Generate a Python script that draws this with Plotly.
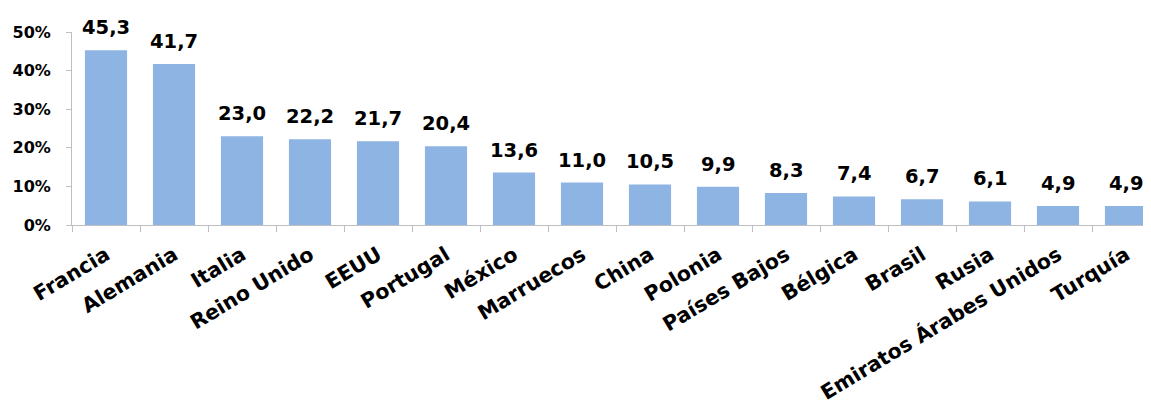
import plotly.graph_objects as go

categories = ["Francia", "Alemania", "Italia", "Reino Unido", "EEUU", "Portugal",
              "México", "Marruecos", "China", "Polonia", "Países Bajos", "Bélgica",
              "Brasil", "Rusia", "Emiratos Árabes Unidos", "Turquía"]
values = [45.3, 41.7, 23.0, 22.2, 21.7, 20.4, 13.6, 11.0, 10.5, 9.9, 8.3, 7.4, 6.7, 6.1, 4.9, 4.9]
y_ticks = [0, 10, 20, 30, 40, 50]

FONT = "DejaVu Sans"
BAR = "#8EB4E3"
AXIS = "#BFBFBF"

# page body has an 8px margin, so the figure is slightly smaller than the window
W, H = 1143, 404
L, R, T, B = 64, 0, 24, 187
cat_px = 68.0
x_max = -0.5 + (W - L - R) / cat_px

fig = go.Figure(go.Bar(
    x=categories, y=values, width=0.62,
    marker=dict(color=BAR, line=dict(width=0)),
    hoverinfo="skip",
))

for c, v in zip(categories, values):
    fig.add_annotation(
        x=c, y=v, text=f"<b>{v:.1f}</b>".replace(".", ","),
        showarrow=False, yanchor="bottom", yshift=9,
        font=dict(family=FONT, size=19.5, color="black"),
    )

fig.update_layout(
    width=W, height=H,
    margin=dict(l=L, r=R, t=T, b=B),
    plot_bgcolor="white", paper_bgcolor="white",
    showlegend=False,
)
fig.update_xaxes(
    type="category", range=[-0.5, x_max],
    showline=True, linecolor=AXIS, linewidth=1,
    ticks="outside", tickson="boundaries", ticklen=6, tickcolor=AXIS,
    tickangle=-31, automargin=False, ticklabelstandoff=9,
    tickfont=dict(family=FONT, size=20.5, color="black", weight="bold"),
    showgrid=False,
)
fig.update_yaxes(
    range=[0, 50], tickvals=y_ticks, ticktext=[f"{t}%" for t in y_ticks],
    showline=True, linecolor=AXIS, linewidth=1,
    ticks="outside", ticklen=5, tickcolor=AXIS,
    ticklabelstandoff=12, automargin=False,
    tickfont=dict(family=FONT, size=16, color="black", weight="bold"),
    showgrid=False, zeroline=False,
)

fig.write_html("out.html")
